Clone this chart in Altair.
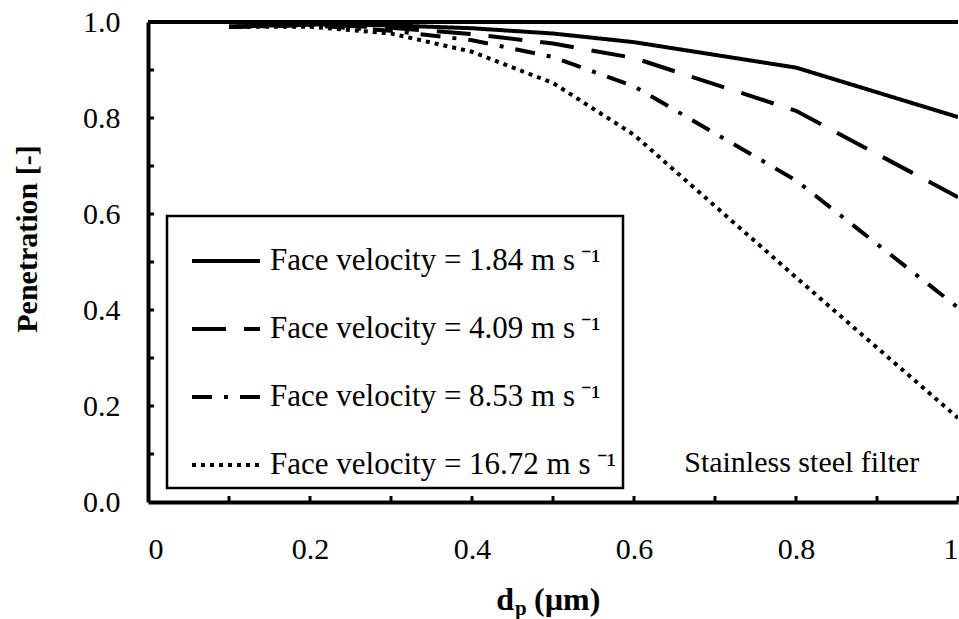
import altair as alt
import pandas as pd

# Particle diameter (µm) and measured penetration for each face velocity
dp = [0.1, 0.2, 0.3, 0.4, 0.5, 0.6, 0.8, 1.0]
pen_184 = [0.990, 0.995, 0.993, 0.987, 0.976, 0.958, 0.905, 0.802]
pen_409 = [0.990, 0.995, 0.988, 0.975, 0.955, 0.925, 0.815, 0.635]
pen_853 = [0.990, 0.993, 0.982, 0.962, 0.927, 0.866, 0.670, 0.405]
pen_1672 = [0.990, 0.990, 0.976, 0.938, 0.873, 0.765, 0.468, 0.175]

series_names = [
    "Face velocity = 1.84 m s\u2009\u207b\u00b9",
    "Face velocity = 4.09 m s\u2009\u207b\u00b9",
    "Face velocity = 8.53 m s\u2009\u207b\u00b9",
    "Face velocity = 16.72 m s\u2009\u207b\u00b9",
]
dash_styles = [[1, 0], [34, 18], [20, 12, 4, 12], [4, 5]]

x_tick_labels = [0, 0.2, 0.4, 0.6, 0.8, 1.0]
y_tick_labels = [0.0, 0.2, 0.4, 0.6, 0.8, 1.0]
minor_ticks = [0.1, 0.2, 0.3, 0.4, 0.5, 0.6, 0.7, 0.8, 0.9, 1.0]

rows = []
for name, vals in zip(series_names, [pen_184, pen_409, pen_853, pen_1672]):
    for x, y in zip(dp, vals):
        rows.append({"dp": x, "pen": y, "series": name})
df = pd.DataFrame(rows)
ticks = pd.DataFrame({"dp": minor_ticks, "pen": minor_ticks})
top_edge = pd.DataFrame({"pen": [1.0]})
note_df = pd.DataFrame({"dp": [0.807], "pen": [0.081], "label": ["Stainless steel filter"]})

SERIF = "'Times New Roman', 'Liberation Serif', serif"
xs = alt.Scale(domain=[0, 1], nice=False, zero=False)
ys = alt.Scale(domain=[0, 1], nice=False, zero=False)

x_axis = alt.Axis(
    values=x_tick_labels, format="~g", title=None, grid=False, ticks=False,
    domainColor="black", domainWidth=4, labelFont=SERIF, labelFontSize=30,
    labelColor="black", labelPadding=32)
y_axis = alt.Axis(
    values=y_tick_labels, format=".1f", title=None, grid=False, ticks=False,
    domainColor="black", domainWidth=4, labelFont=SERIF, labelFontSize=30,
    labelColor="black", labelPadding=28)

X = alt.X("dp:Q", scale=xs, axis=x_axis)
Y = alt.Y("pen:Q", scale=ys, axis=y_axis)

# Legend frame drawn behind the legend entries
legend_box = alt.Chart(top_edge).mark_rect(
    fill="white", stroke="black", strokeWidth=2.5).encode(
    x=alt.value(19), x2=alt.value(475), y=alt.value(194), y2=alt.value(466))

lines = alt.Chart(df).mark_line(color="black", strokeWidth=4, clip=True).encode(
    x=X, y=Y,
    strokeDash=alt.StrokeDash("series:N", scale=alt.Scale(domain=series_names, range=dash_styles),
        legend=alt.Legend(
            orient="none", legendX=42, legendY=203, title=None,
            symbolType="stroke", symbolSize=4624, symbolStrokeWidth=4,
            symbolStrokeColor="black", labelFont=SERIF, labelFontSize=31,
            labelColor="black", labelOffset=8, labelLimit=600, rowPadding=17,
            padding=0)),
    order=alt.Order("dp:Q"),
)

x_ticks = alt.Chart(ticks).mark_rule(color="black", strokeWidth=3).encode(
    x=X, y=alt.value(480), y2=alt.value(474))
y_ticks = alt.Chart(ticks).mark_rule(color="black", strokeWidth=3).encode(
    y=Y, x=alt.value(0), x2=alt.value(6))

top_border = alt.Chart(top_edge).mark_rule(color="black", strokeWidth=4).encode(
    y=Y, x=alt.value(0), x2=alt.value(810))

note = alt.Chart(note_df).mark_text(font=SERIF, fontSize=30, color="black").encode(
    x=X, y=Y, text="label:N")

y_title = alt.Chart(top_edge).mark_text(font=SERIF, fontSize=30, fontWeight="bold",
                                        color="black", angle=270, baseline="middle").encode(
    x=alt.value(-120), y=alt.value(217), text=alt.value("Penetration [-]"))

x_title_d = alt.Chart(top_edge).mark_text(font=SERIF, fontSize=32, fontWeight="bold",
                                          color="black", align="right", baseline="middle").encode(
    x=alt.value(366), y=alt.value(578), text=alt.value("d"))
x_title_p = alt.Chart(top_edge).mark_text(font=SERIF, fontSize=21, fontWeight="bold",
                                          color="black", align="left", baseline="middle").encode(
    x=alt.value(367), y=alt.value(587), text=alt.value("p"))
x_title_unit = alt.Chart(top_edge).mark_text(font=SERIF, fontSize=32, fontWeight="bold",
                                             color="black", align="left", baseline="middle").encode(
    x=alt.value(386), y=alt.value(578), text=alt.value("(\u00b5m)"))

chart = alt.layer(
    legend_box, lines, x_ticks, y_ticks, top_border, note,
    y_title, x_title_d, x_title_p, x_title_unit
).properties(
    width=810, height=480,
    padding={"left": 148, "top": 22, "right": 1, "bottom": 117},
    autosize=alt.AutoSizeParams(type="none"),
    background="white",
).configure_view(stroke=None)

chart.save("out.html", embed_options={"renderer": "svg", "actions": False})
